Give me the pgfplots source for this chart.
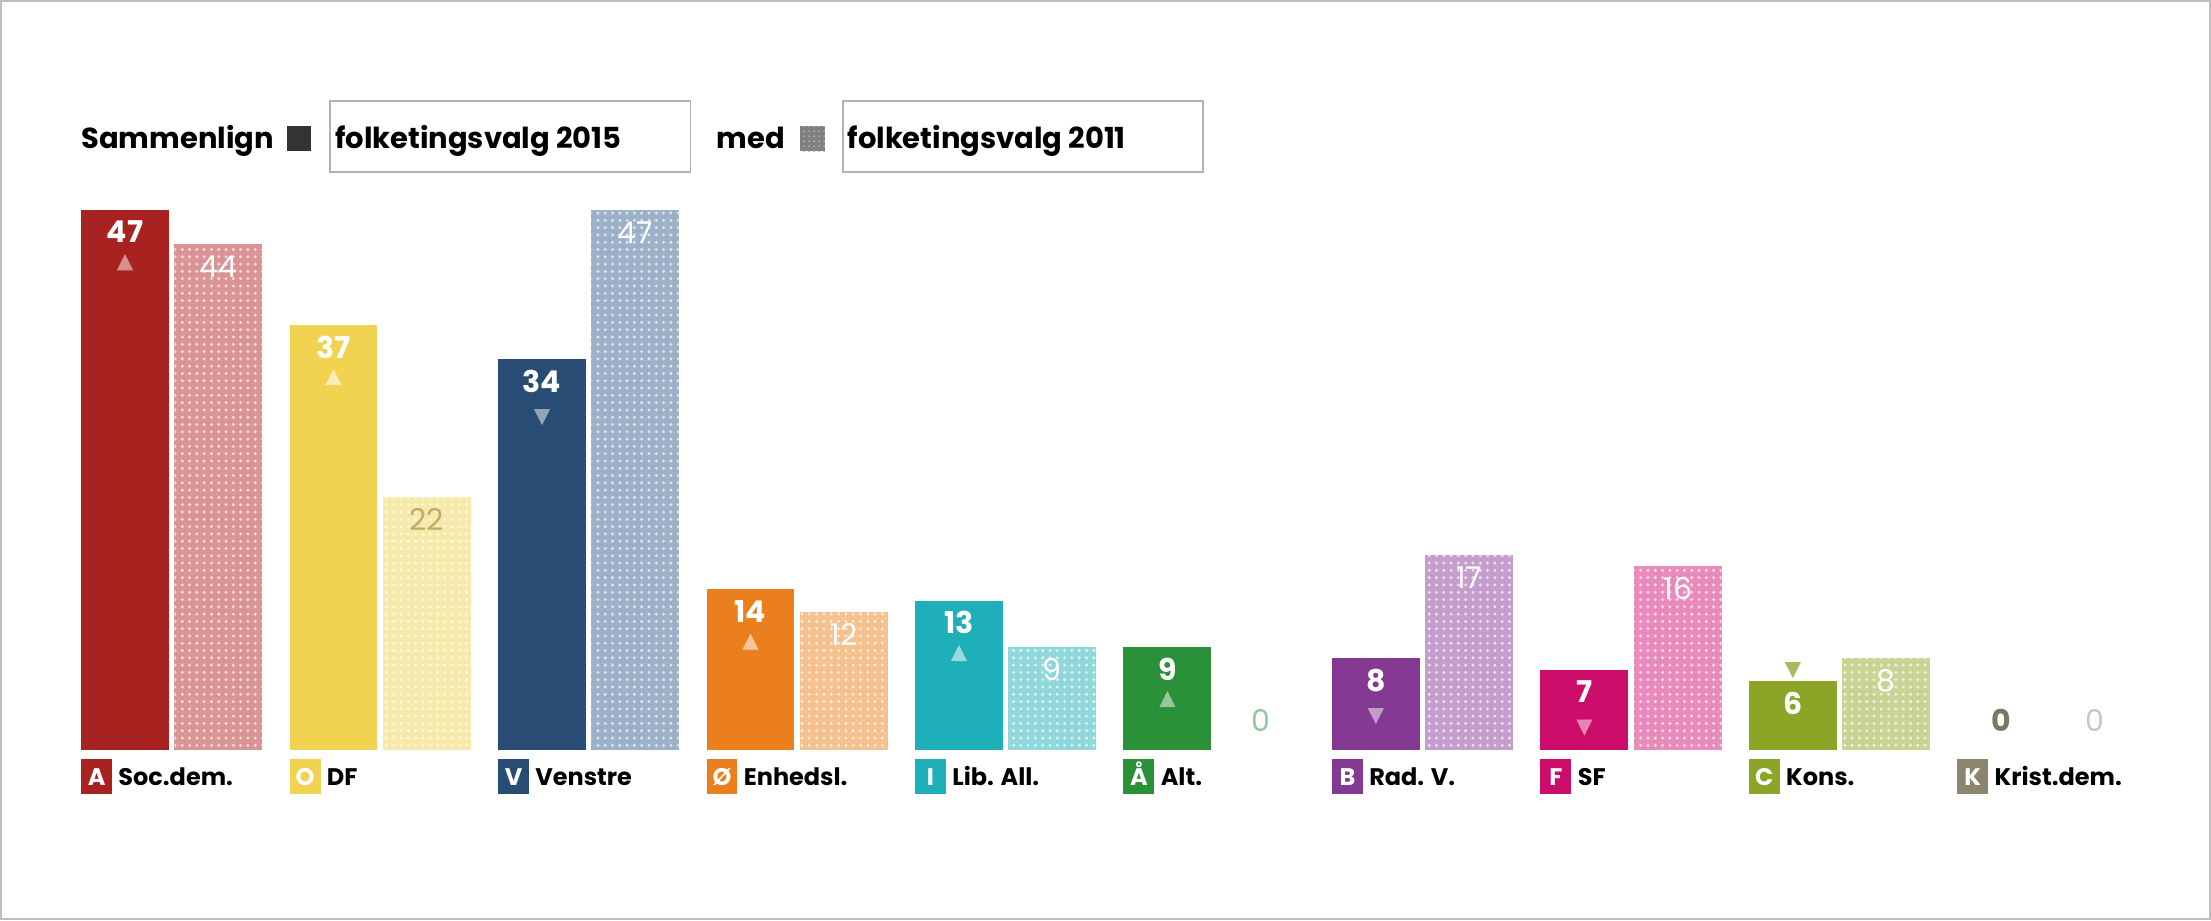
\documentclass[border=0pt]{standalone}
\usepackage{fontspec}
\setmainfont{Poppins}
\usepackage{pgfplots}
\pgfplotsset{compat=1.18}
\usetikzlibrary{patterns.meta}
\definecolor{cA}{HTML}{A82320}\definecolor{cAl}{HTML}{DA9495}
\definecolor{cO}{HTML}{F2D351}\definecolor{cOl}{HTML}{F7E9AA}
\definecolor{cV}{HTML}{284C74}\definecolor{cVl}{HTML}{9CB0C8}
\definecolor{cOe}{HTML}{EB7E1D}\definecolor{cOel}{HTML}{F5C18F}
\definecolor{cI}{HTML}{1EAFB8}\definecolor{cIl}{HTML}{90D7DB}
\definecolor{cAa}{HTML}{2A9138}
\definecolor{cB}{HTML}{843A92}\definecolor{cBl}{HTML}{C59DCD}
\definecolor{cF}{HTML}{CB0C69}\definecolor{cFl}{HTML}{E98BBA}
\definecolor{cC}{HTML}{8BA527}\definecolor{cCl}{HTML}{C9D494}
\definecolor{cK}{HTML}{8A8470}
\newcommand\numfont{\fontsize{15}{16}\selectfont}
\pgfplotsset{
  b15/.style={ybar, bar width=44pt, bar shift=-23.375pt, fill=#1, draw=none,
    nodes near coords={\pgfmathprintnumber[assume math mode=true]{\pgfplotspointmeta}},
    every node near coord/.append style={font=\bfseries\numfont, text=white, anchor=center, xshift=-23.375pt, yshift=-11pt}},
  b11/.style 2 args={ybar, bar width=44pt, bar shift=23.375pt, fill=#1, draw=none,
    postaction={pattern={Dots[distance=3.65pt, radius=0.85pt]}, pattern color=#2},
    nodes near coords={\pgfmathprintnumber[assume math mode=true]{\pgfplotspointmeta}},
    every node near coord/.append style={font=\numfont, text=white, anchor=center, xshift=23.375pt, yshift=-11.25pt}},
  triup/.style 2 args={color=#1, only marks, mark=triangle*, mark size=4.3pt, mark options={draw=none, fill=#1, xshift=-23.375pt, yshift=#2, yscale=1.15}},
  tridn/.style 2 args={color=#1, only marks, mark=triangle*, mark size=4.3pt, mark options={draw=none, fill=#1, xshift=-23.375pt, yshift=#2, rotate=180, yscale=1.15}},
}
\begin{document}
\begin{tikzpicture}
\begin{axis}[scale only axis, width=1105.5pt, height=459.5pt,
  xmin=-0.818, xmax=9.776, ymin=-14.68, ymax=65.16,
  xtick=\empty, ytick=\empty, axis line style={draw=black!25, line width=1.2pt},
  clip=false]
% Soc.dem.
\addplot[b15=cA] coordinates {(0,47)};
\addplot[b11={cAl}{cAl!35!white}] coordinates {(0,44)};
\addplot[triup={cA!50!white}{-27.5pt}] coordinates {(0,47)};
% DF
\addplot[b15=cO] coordinates {(1,37)};
\addplot[b11={cOl}{cOl!35!white}, every node near coord/.append style={text=cO!55!gray}] coordinates {(1,22)};
\addplot[triup={cO!40!white}{-27.5pt}] coordinates {(1,37)};
% Venstre
\addplot[b15=cV] coordinates {(2,34)};
\addplot[b11={cVl}{cVl!35!white}] coordinates {(2,47)};
\addplot[tridn={cV!50!white}{-27.5pt}] coordinates {(2,34)};
% Enhedsl.
\addplot[b15=cOe] coordinates {(3,14)};
\addplot[b11={cOel}{cOel!35!white}] coordinates {(3,12)};
\addplot[triup={cOe!45!white}{-27.5pt}] coordinates {(3,14)};
% Lib. All.
\addplot[b15=cI] coordinates {(4,13)};
\addplot[b11={cIl}{cIl!35!white}] coordinates {(4,9)};
\addplot[triup={cI!45!white}{-27.5pt}] coordinates {(4,13)};
% Alt.
\addplot[b15=cAa] coordinates {(5,9)};
\addplot[b11={white}{white}, fill=none, every node near coord/.append style={text=cAa!50!white, yshift=26.25pt}] coordinates {(5,0)};
\addplot[triup={cAa!50!white}{-27.5pt}] coordinates {(5,9)};
% Rad. V.
\addplot[b15=cB] coordinates {(6,8)};
\addplot[b11={cBl}{cBl!35!white}] coordinates {(6,17)};
\addplot[tridn={cB!50!white}{-27.5pt}] coordinates {(6,8)};
% SF
\addplot[b15=cF] coordinates {(7,7)};
\addplot[b11={cFl}{cFl!35!white}] coordinates {(7,16)};
\addplot[tridn={cF!50!white}{-27.5pt}] coordinates {(7,7)};
% Kons.
\addplot[b15=cC] coordinates {(8,6)};
\addplot[b11={cCl}{cCl!35!white}] coordinates {(8,8)};
\addplot[tridn={cC!75!white}{7pt}] coordinates {(8,6)};
% Krist.dem.
\addplot[b15=white, fill=none, every node near coord/.append style={text=cK!90!black, yshift=26pt}] coordinates {(9,0)};
\addplot[b11={white}{white}, fill=none, every node near coord/.append style={text=cK!45!white, yshift=26.25pt}] coordinates {(9,0)};
\end{axis}
\begin{scope}[yshift=459.5pt, x=0.5pt, y=-0.5pt]
  \tikzset{hdr/.style={font=\bfseries\fontsize{14.5}{15}\selectfont, inner sep=0pt, anchor=base west}}
  \node[hdr] at (80,147) {Sammenlign};
  \fill[black!80] (286,125) rectangle (310,150);
  \draw[black!30, line width=0.8pt] (329,100) rectangle (690,171);
  \node[hdr] at (334,147) {folketingsvalg 2015};
  \node[hdr] at (716,147) {med};
  \fill[black!50, postaction={pattern={Dots[distance=2.5pt, radius=0.5pt]}, pattern color=black!30}] (800,125) rectangle (825,150);
  \draw[black!30, line width=0.8pt] (843,100) rectangle (1203,171);
  \node[hdr] at (847,147) {folketingsvalg 2011};
  \foreach \i/\L/\N/\c in {0/A/Soc.dem./cA, 1/O/DF/cO, 2/V/Venstre/cV, 3/Ø/Enhedsl./cOe, 4/I/Lib. All./cI, 5/Å/Alt./cAa, 6/B/Rad. V./cB, 7/F/SF/cF, 8/C/Kons./cC, 9/K/Krist.dem./cK}{
    \pgfmathsetmacro\xo{80+208.7*\i}
    \fill[\c] (\xo,759) rectangle ++(31,35);
    \node[font=\bfseries\fontsize{12}{13}\selectfont, text=white, inner sep=0pt, anchor=base] at (\xo+15.5,785) {\L};
    \node[font=\bfseries\fontsize{12}{13}\selectfont, inner sep=0pt, anchor=base west] at (\xo+37,785) {\N};
  }
\end{scope}
\end{tikzpicture}
\end{document}
